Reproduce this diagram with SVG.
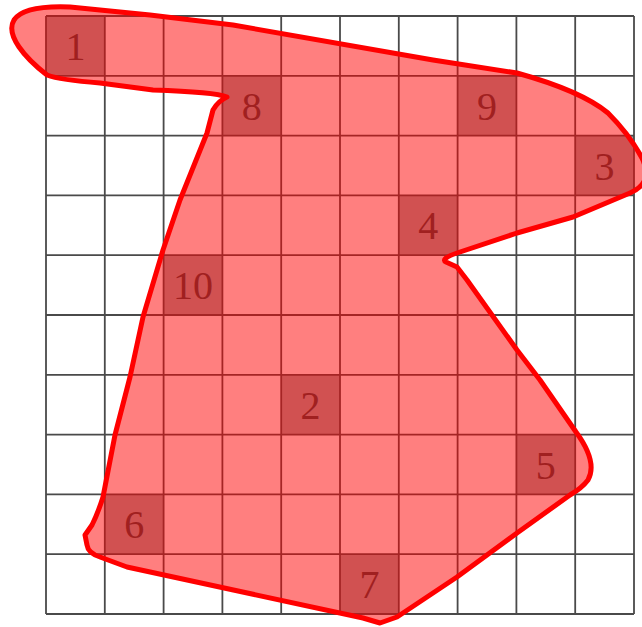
<svg xmlns="http://www.w3.org/2000/svg" width="642" height="627" viewBox="0 0 642 627">
<style>
.cell{fill:#a2a2a2}
.grid{stroke:#4a4a4a;stroke-width:1.8;fill:none}
.lbl{font-family:"Liberation Serif","Times New Roman",serif;font-size:40px;fill:#404040;text-anchor:middle}
.region{fill:#ff0000;fill-opacity:0.5;stroke:#ff0000;stroke-width:5;stroke-linejoin:round}
</style>
<rect width="642" height="627" fill="#ffffff"/>
<g id="cells">
<g id="n1"><rect class="cell" x="46" y="16" width="58.8" height="59.8"/><text class="lbl" x="75.4" y="60">1</text></g>
<g id="n8"><rect class="cell" x="222.4" y="75.8" width="58.8" height="59.8"/><text class="lbl" x="251.8" y="120">8</text></g>
<g id="n9"><rect class="cell" x="457.6" y="75.8" width="58.8" height="59.8"/><text class="lbl" x="487" y="120">9</text></g>
<g id="n3"><rect class="cell" x="575.2" y="135.6" width="58.8" height="59.8"/><text class="lbl" x="604.6" y="179.5">3</text></g>
<g id="n4"><rect class="cell" x="398.8" y="195.4" width="58.8" height="59.8"/><text class="lbl" x="428.2" y="239.3">4</text></g>
<g id="n10"><rect class="cell" x="163.6" y="255.2" width="58.8" height="59.8"/><text class="lbl" x="193" y="299.1">10</text></g>
<g id="n2"><rect class="cell" x="281.2" y="374.8" width="58.8" height="59.8"/><text class="lbl" x="310.6" y="418.7">2</text></g>
<g id="n5"><rect class="cell" x="516.4" y="434.6" width="58.8" height="59.8"/><text class="lbl" x="545.8" y="478.5">5</text></g>
<g id="n6"><rect class="cell" x="104.8" y="494.4" width="58.8" height="59.8"/><text class="lbl" x="134.2" y="538.3">6</text></g>
<g id="n7"><rect class="cell" x="340" y="554.2" width="58.8" height="59.8"/><text class="lbl" x="369.4" y="598.1">7</text></g>
</g>
<g id="grid" class="grid">
<path d="M46,16V614M104.8,16V614M163.6,16V614M222.4,16V614M281.2,16V614M340,16V614M398.8,16V614M457.6,16V614M516.4,16V614M575.2,16V614M634,16V614"/>
<path d="M46,16H634M46,75.8H634M46,135.6H634M46,195.4H634M46,255.2H634M46,315H634M46,374.8H634M46,434.6H634M46,494.4H634M46,554.2H634M46,614H634"/>
</g>
<g id="connectors">
<path id="region" class="region" d="M70,7 L150,15 L233,25 L433,60 L517,73 C560,85 590,98 608,113 C622,127 634,143 642,158 C650,175 646,186 630,193 L573,217 L517,233 L457,253 Q440,259 446,262 L457,267 L467,280 L517,350 L540,380 L576,432 Q598,462 588,480 Q582,488 570,495 L517,533 L457,577 L397,617 L380,623 L363,618 L127,567 L100,557 Q88,553 87,545 L85,535 L92,525 Q98,513 103,497 L115,435 L130,377 L143,317 L163,250 L180,200 L207,133 L213,110 Q218,101 227,97 Q215,92 153,90 L100,83 Q60,80 47,75 C25,58 5,35 14,20 C22,8 45,6 70,7 Z"/>
</g>
</svg>
